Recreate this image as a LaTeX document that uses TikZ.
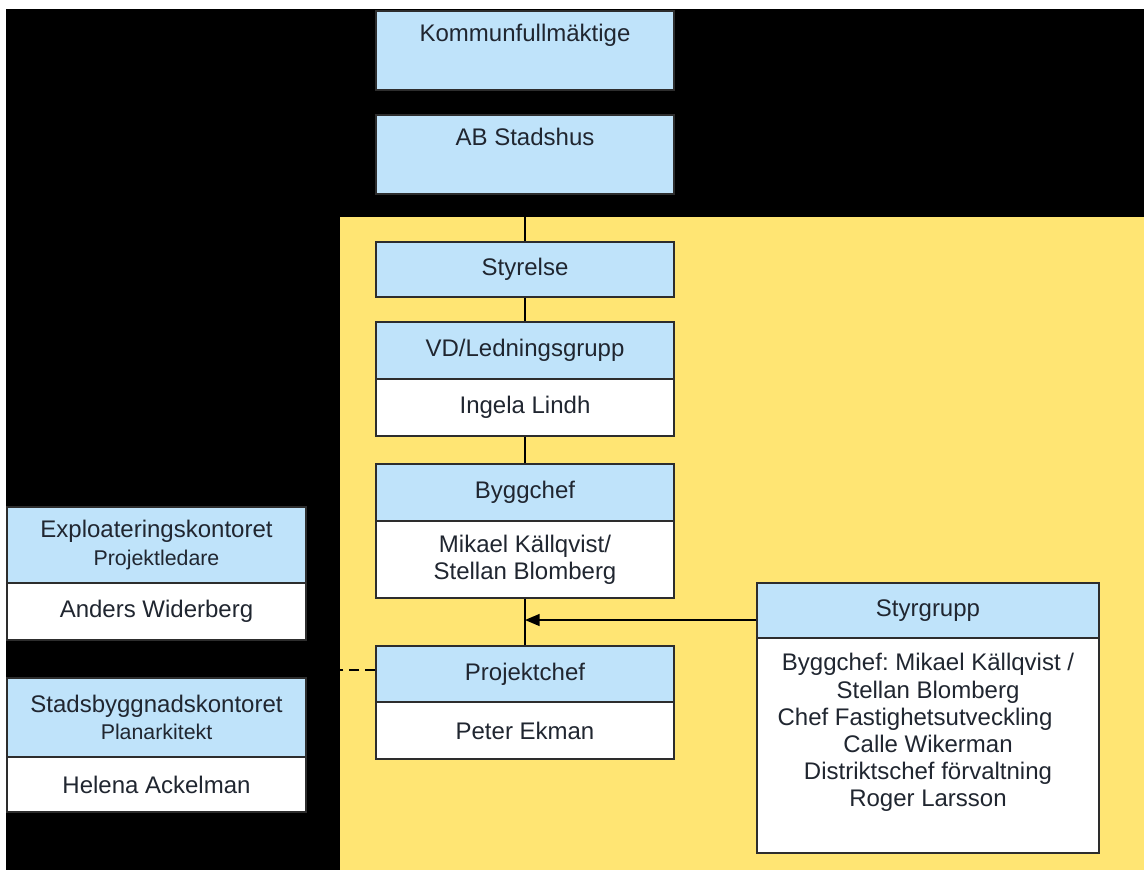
\documentclass[tikz,border=0pt]{standalone}
\usepackage{fontspec}
\setmainfont{Liberation Sans}
\usetikzlibrary{arrows.meta,positioning}
\frenchspacing
\definecolor{hdblue}{RGB}{191,227,250}
\definecolor{bgyellow}{RGB}{255,229,115}
\definecolor{boxline}{RGB}{45,45,45}
\definecolor{inktext}{RGB}{32,38,48}
\tikzset{
  box/.style={draw=boxline, line width=0.8pt, minimum width=223.5pt, inner sep=0pt,
    align=center, text=inktext, font=\fontsize{18}{20.4}\selectfont},
  hd/.style={box, fill=hdblue},
  bd/.style={box, fill=white},
  toptext/.style={text height=22.95pt, text depth=36.3pt},
  conn/.style={line width=1.1pt, black},
}
\newcommand{\sub}[1]{{\fontsize{16}{20.4}\selectfont #1}}
\begin{document}
\begin{tikzpicture}[x=0.75pt,y=-0.75pt]
\useasboundingbox (0,0) rectangle (1144,870);
\fill[white] (0,0) rectangle (1144,870);
\fill[black] (6,9) rectangle (1144,870);
\fill[bgyellow] (340,217) rectangle (1144,870);

%top of the chain
\node[hd, toptext, minimum height=59.25pt] (kf) at (525,50.5) {Kommunfullmäktige};
\node[hd, toptext, minimum height=59.25pt] (ab) at (525,154.5) {AB Stadshus};
\node[hd, minimum height=41.25pt] (sty) at (525,269.5) {Styrelse};
\draw[conn] (ab) -- (sty);

\node[hd, minimum height=42.75pt] (vdH) at (525,350.5) {VD/Ledningsgrupp};
\node[bd, minimum height=42.75pt] (vdB) at (525,407.5) {Ingela Lindh};
\draw[conn] (sty) -- (vdH);

\node[hd, minimum height=42.75pt] (bcH) at (525,492.5) {Byggchef};
\node[bd, minimum height=57.75pt] (bcB) at (525,559.5) {Mikael Källqvist/\\Stellan Blomberg};
\draw[conn] (vdB) -- (bcH);

\node[hd, minimum height=42pt] (pcH) at (525,674) {Projektchef};
\node[bd, minimum height=42.75pt] (pcB) at (525,730.5) {Peter Ekman};
\draw[conn] (bcB) -- (pcH);

%left side
\node[hd, minimum width=224.25pt, minimum height=57pt] (exH) at (156.5,545) {Exploateringskontoret\\\sub{Projektledare}};
\node[bd, minimum width=224.25pt, minimum height=42.75pt] (exB) at (156.5,611.5) {Anders Widerberg};
\node[hd, minimum width=224.25pt, minimum height=59.25pt] (sbH) at (156.5,717.5) {Stadsbyggnadskontoret\\\sub{Planarkitekt}};
\node[bd, minimum width=224.25pt, minimum height=41.25pt] (sbB) at (156.5,784.5) {Helena Ackelman};
\coordinate (leftlink) at (306,670);
\draw[conn, dash pattern=on 7.5pt off 4.5pt] (pcH.west |- leftlink) -- (leftlink);

%styrgrupp
\node[hd, minimum width=256.5pt, minimum height=41.25pt] (sgH) at (928,610.5) {Styrgrupp};
\node[bd, minimum width=256.5pt, minimum height=161.25pt] (sgB) at (928,745.5) {};
\node[box, draw=none, anchor=north] (sgT) at (928,653) {Byggchef: Mikael Källqvist /\\Stellan Blomberg\\Chef Fastighetsutveckling\rule{19.5pt}{0pt}\\Calle Wikerman\\Distriktschef förvaltning\\Roger Larsson};
\coordinate (join) at (525,620);
\draw[conn, -{Triangle[length=11pt, width=9pt]}] (sgH.west |- join) -- (join);

\end{tikzpicture}
\end{document}
